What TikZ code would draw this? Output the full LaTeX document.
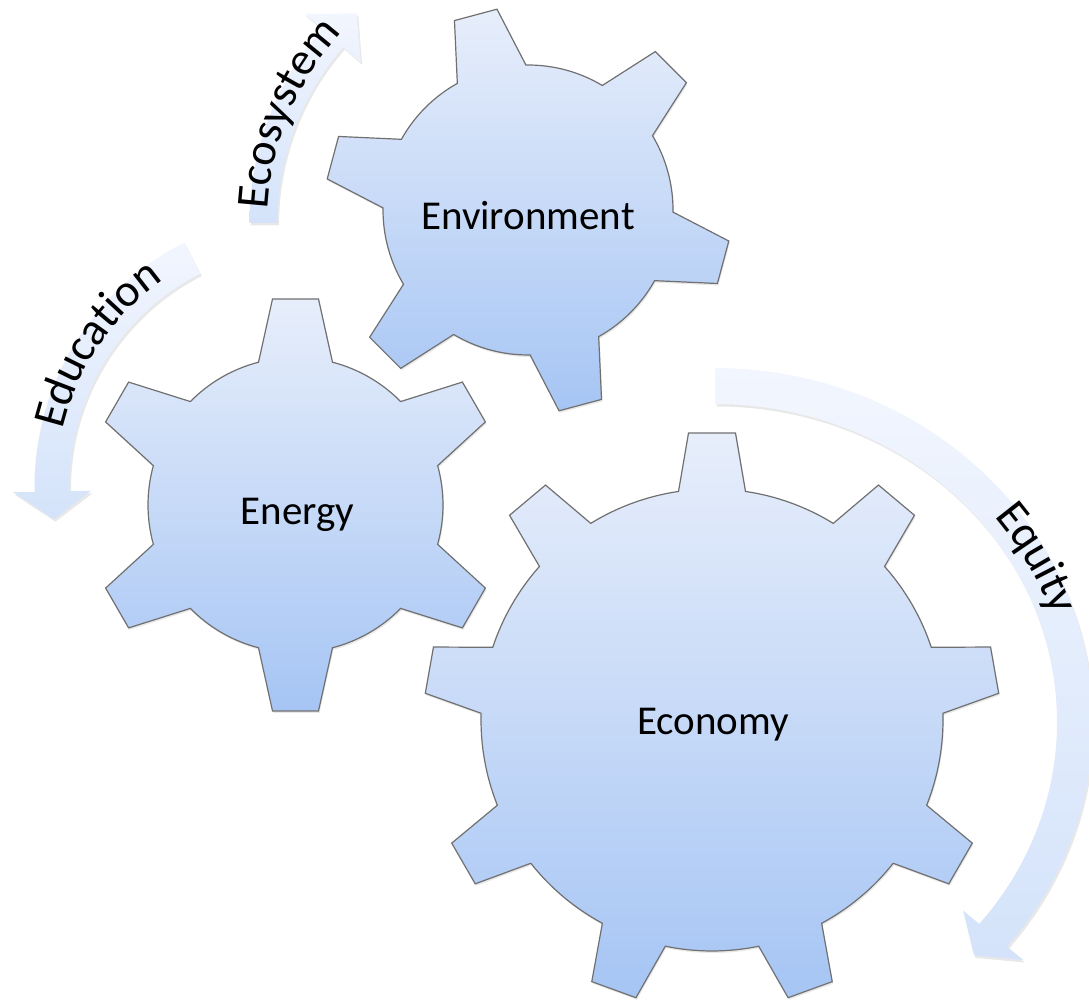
\documentclass[tikz,border=0pt]{standalone}
\usepackage{fontspec}
\setmainfont{Carlito}
\usetikzlibrary{shadows,decorations.text}
\definecolor{gearline}{RGB}{112,112,112}
\definecolor{geartop}{RGB}{231,238,251}
\definecolor{gearmid}{RGB}{205,221,247}
\definecolor{gearbot}{RGB}{166,197,244}
\definecolor{arrtop}{RGB}{242,246,254}
\definecolor{arrbot}{RGB}{212,227,250}
\newcommand{\arrlabelfont}{\fontsize{46}{54}\selectfont}
\tikzset{
  gearbody/.style={draw=gearline, line width=1.2pt, top color=geartop, middle color=gearmid, bottom color=gearbot,
    drop shadow={opacity=0.18, shadow xshift=1pt, shadow yshift=-2pt}},
  arrowbody/.style={top color=arrtop, bottom color=arrbot, draw=none,
    drop shadow={opacity=0.18, shadow xshift=1.5pt, shadow yshift=-2.5pt}},
  gearlabel/.style={font=\fontsize{41}{49}\selectfont, inner sep=0pt, anchor=base},
  arclabel/.style={decorate, decoration={text along path, text align=center, raise=-4pt, text={|\arrlabelfont|#1}}}
}
% cx, cy, n, phi0, Rbody, Rtip, base half width, tip half width
\newcommand{\mygear}[8]{%
  \pgfmathsetmacro\gearAB{asin(#7/#5)}%
  \pgfmathsetmacro\gearAT{atan(#8/#6)}%
  \pgfmathsetmacro\gearRT{veclen(#6,#8)}%
  \pgfmathsetmacro\gearST{360/#3}%
  \begin{scope}[shift={(#1,#2)}]
    \path[gearbody] ({#4-\gearAB}:#5pt)
      \foreach \k in {1,...,#3}{
        -- ({#4+(\k-1)*\gearST-\gearAT}:\gearRT pt)
        -- ({#4+(\k-1)*\gearST+\gearAT}:\gearRT pt)
        -- ({#4+(\k-1)*\gearST+\gearAB}:#5pt)
        arc[start angle={#4+(\k-1)*\gearST+\gearAB}, end angle={#4+\k*\gearST-\gearAB}, radius=#5pt]
      } -- cycle;
  \end{scope}}
% cx, cy, rx, ry, half width, start angle, base angle, tip angle, wing half span
\newcommand{\myarrow}[9]{%
  \pgfmathsetmacro\arOX{#3+#5}\pgfmathsetmacro\arOY{#4+#5}%
  \pgfmathsetmacro\arIX{#3-#5}\pgfmathsetmacro\arIY{#4-#5}%
  \pgfmathsetmacro\arWOX{#3+#9}\pgfmathsetmacro\arWOY{#4+#9}%
  \pgfmathsetmacro\arWIX{#3-#9}\pgfmathsetmacro\arWIY{#4-#9}%
  \begin{scope}[shift={(#1,#2)}]
    \path[arrowbody] (#6:\arOX pt and \arOY pt)
      arc[start angle=#6, end angle=#7, x radius=\arOX pt, y radius=\arOY pt]
      -- (#7:\arWOX pt and \arWOY pt)
      -- (#8:#3pt and #4pt)
      -- (#7:\arWIX pt and \arWIY pt)
      -- (#7:\arIX pt and \arIY pt)
      arc[start angle=#7, end angle=#6, x radius=\arIX pt, y radius=\arIY pt]
      -- cycle;
  \end{scope}}
\begin{document}
\begin{tikzpicture}[x=1pt,y=1pt]
\useasboundingbox (0,0) rectangle (1089,1000);
% curved arrows
\myarrow{545.5}{777}{282}{282}{14}{180}{139}{132}{37}
\myarrow{309}{513}{257}{257}{17.5}{117}{181}{187.2}{39}
\myarrow{715}{278}{360}{336}{18}{90}{-39.4}{-44}{39}
% arrow labels
\begin{scope}[shift={(545.5,777)}]
  \path[arclabel=Ecosystem] (187:282pt) arc[start angle=187, end angle=127, radius=282pt];
\end{scope}
\begin{scope}[shift={(309,513)}]
  \path[arclabel=Education] (179:257pt) arc[start angle=179, end angle=113, radius=257pt];
\end{scope}
\begin{scope}[shift={(715,278)}]
  \path[arclabel=Equity] (61:360pt and 336pt) arc[start angle=61, end angle=-5, x radius=360pt, y radius=336pt];
\end{scope}
% gears
\mygear{528}{790}{6}{105}{145}{202}{35.5}{22}
\mygear{295.5}{495}{6}{90}{147.5}{206}{37}{23}
\mygear{712}{280}{9}{90}{231}{287}{33.5}{23.5}
% gear labels
\node[gearlabel] (envlabel) at (528,770) {Environment};
\node[gearlabel] (energylabel) at (297.5,475) {Energy};
\node[gearlabel] (econlabel) at (713,265) {Economy};
\end{tikzpicture}
\end{document}
